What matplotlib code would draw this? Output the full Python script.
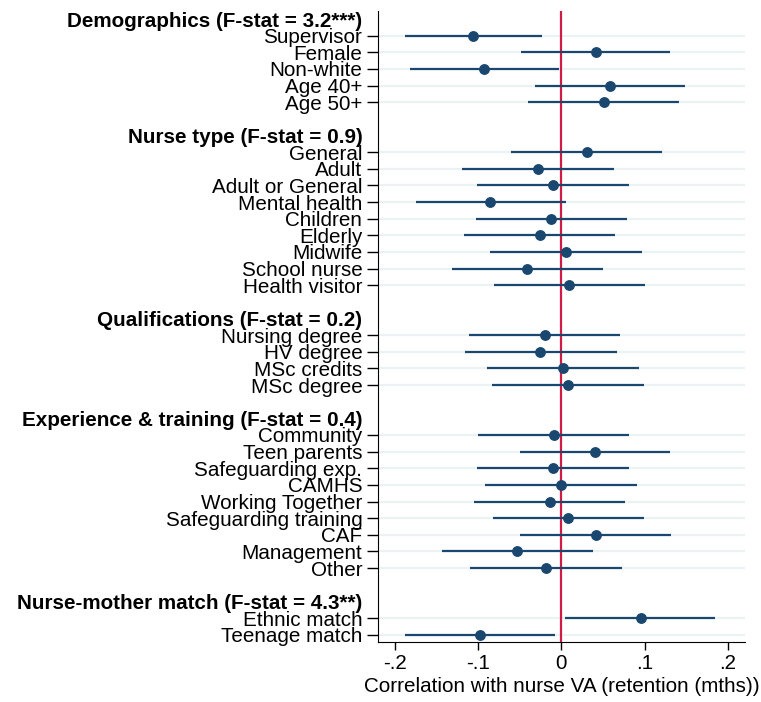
import numpy as np
import matplotlib
matplotlib.use("Agg")
import matplotlib.pyplot as plt

plt.rcParams['font.family'] = ['Liberation Sans', 'DejaVu Sans']

# group headers and the variables inside each group
groups = ["Demographics (F-stat = 3.2***)",
          "Nurse type (F-stat = 0.9)",
          "Qualifications (F-stat = 0.2)",
          "Experience & training (F-stat = 0.4)",
          "Nurse-mother match (F-stat = 4.3**)"]

group_items = [
    ["Supervisor", "Female", "Non-white", "Age 40+", "Age 50+"],
    ["General", "Adult", "Adult or General", "Mental health", "Children",
     "Elderly", "Midwife", "School nurse", "Health visitor"],
    ["Nursing degree", "HV degree", "MSc credits", "MSc degree"],
    ["Community", "Teen parents", "Safeguarding exp.", "CAMHS", "Working Together",
     "Safeguarding training", "CAF", "Management", "Other"],
    ["Ethnic match", "Teenage match"],
]

# point estimates and 95% CI
coef = [-0.106, 0.042, -0.093, 0.058, 0.051,
        0.031, -0.028, -0.010, -0.085, -0.012, -0.026, 0.006, -0.041, 0.009,
        -0.020, -0.025, 0.002, 0.008,
        -0.009, 0.041, -0.010, 0.000, -0.014, 0.008, 0.042, -0.053, -0.018,
        0.096, -0.098]
ci_lo = [-0.187, -0.048, -0.182, -0.032, -0.040,
         -0.060, -0.119, -0.101, -0.174, -0.102, -0.117, -0.085, -0.131, -0.081,
         -0.111, -0.116, -0.089, -0.083,
         -0.100, -0.050, -0.101, -0.091, -0.105, -0.082, -0.049, -0.143, -0.109,
         0.005, -0.187]
ci_hi = [-0.023, 0.131, -0.003, 0.149, 0.141,
         0.121, 0.063, 0.081, 0.006, 0.079, 0.065, 0.097, 0.050, 0.100,
         0.071, 0.067, 0.093, 0.099,
         0.081, 0.131, 0.081, 0.091, 0.077, 0.099, 0.132, 0.038, 0.073,
         0.184, -0.007]

navy = '#1a476f'

# build row positions: header row, items, blank row between groups
labels, rows, is_header, item_rows = [], [], [], []
r = 0
for gi, (g, items) in enumerate(zip(groups, group_items)):
    if gi > 0:
        r += 1
    labels.append(g)
    rows.append(r)
    is_header.append(True)
    r += 1
    for it in items:
        labels.append(it)
        rows.append(r)
        is_header.append(False)
        item_rows.append(r)
        r += 1
item_rows = np.array(item_rows)

fig = plt.figure(figsize=(7.61, 7.02), dpi=100)
ax = fig.add_axes([0.4967, 0.0855, 0.9785 - 0.4967, 0.9843 - 0.0855])

# light grid lines on the item rows only
ax.hlines(item_rows, -0.22, 0.22, color='#eaf2f3', lw=1.6, zorder=0)
ax.axvline(0, color='#d01c44', lw=1.6, zorder=1)
ax.hlines(item_rows, ci_lo, ci_hi, color=navy, lw=1.6, zorder=2)
ax.plot(coef, item_rows, 'o', color=navy, ms=6.8, zorder=3)

ax.set_xlim(-0.22, 0.22)
ax.set_ylim(37.44, -0.48)
ax.set_xticks([-0.2, -0.1, 0, 0.1, 0.2])
ax.set_xticklabels(['-.2', '-.1', '0', '.1', '.2'])
ax.set_yticks(rows)
ax.set_yticklabels(labels)
ax.tick_params(axis='both', labelsize=14.9, width=1, direction='out')
ax.tick_params(axis='y', length=8, pad=3.3)
ax.tick_params(axis='x', length=5.5, pad=3)

for tick, lab, hd in zip(ax.yaxis.get_major_ticks(), ax.get_yticklabels(), is_header):
    if hd:
        tick.tick1line.set_visible(False)
        lab.set_fontweight('bold')

ax.set_xlabel('Correlation with nurse VA (retention (mths))', fontsize=14.9, labelpad=3)

ax.spines['top'].set_visible(False)
ax.spines['right'].set_visible(False)

fig.savefig('out.png', dpi=100)
